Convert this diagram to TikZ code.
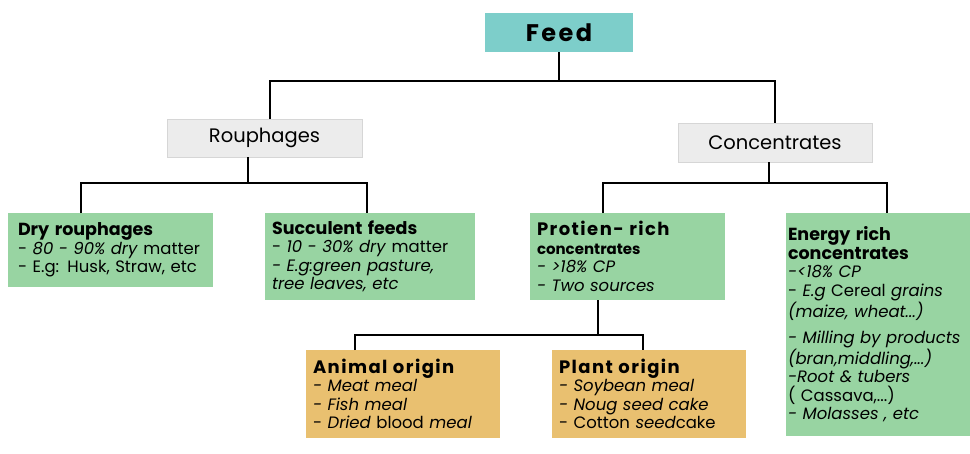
\documentclass[tikz,border=0pt]{standalone}
\usepackage{fontspec}
\setmainfont{Poppins}
\definecolor{teal1}{RGB}{125,206,202}
\definecolor{green1}{RGB}{152,212,162}
\definecolor{orange1}{RGB}{233,192,112}
\definecolor{gray1}{RGB}{236,236,236}
\definecolor{gray2}{RGB}{214,214,214}
\newcommand{\bodyfont}{\fontsize{16.5}{18.5}\selectfont}
\newcommand{\ttl}[1]{{\fontsize{17.5}{19}\selectfont\bfseries #1}}
\newcommand{\spttl}[1]{{\fontsize{18}{20}\selectfont\bfseries\addfontfeature{LetterSpace=8}#1}}
\begin{document}
\begin{tikzpicture}[x=1pt,y=-1pt,
  conn/.style={line width=2pt, black},
  boxbase/.style={anchor=north west, inner xsep=13pt, inner ysep=3pt, outer sep=0pt, align=left, font=\bodyfont},
  gbox/.style={boxbase, fill=green1},
  obox/.style={boxbase, fill=orange1},
  hbox/.style={anchor=north west, fill=gray1, draw=gray2, line width=0.8pt, inner sep=0pt, outer sep=0pt, align=center, font=\fontsize{19.5}{22}\selectfont},
  feedbox/.style={anchor=north west, fill=teal1, inner sep=0pt, outer sep=0pt, align=center, font=\fontsize{24}{28}\selectfont\bfseries\addfontfeature{LetterSpace=10}}
]
\useasboundingbox (0,0) rectangle (970,453);
\fill[white] (0,0) rectangle (970,453);

\node[feedbox, minimum width=148pt, minimum height=39pt] (feed) at (485,13) {Feed};
\node[hbox, minimum width=195pt, minimum height=38pt] (rouph) at (167,119) {Rouphages};
\node[hbox, minimum width=194pt, minimum height=39pt] (conc) at (678,123) {Concentrates};

\node[gbox, minimum width=205pt, minimum height=74pt, text width=185pt, inner xsep=10pt] (dry) at (8,213)
 {\ttl{Dry rouphages}\\- \textit{80 - 90\% dry} matter\\- E.g: Husk, Straw, etc};
\node[gbox, minimum width=210pt, minimum height=87pt, text width=196pt, inner xsep=7pt] (succ) at (265,213)
 {\ttl{Succulent feeds}\\- \textit{10 - 30\% dry} matter\\\textit{- E.g:green pasture,}\\\textit{tree leaves, etc}};
\node[gbox, minimum width=195pt, minimum height=87pt, text width=181pt, inner xsep=7pt] (prot) at (530,213)
 {\spttl{Protien- rich}\\{\fontsize{15}{16}\selectfont\bfseries concentrates}\\\textit{- >18\% CP}\\\textit{- Two sources}};
\node[gbox, minimum width=184pt, minimum height=223pt, text width=180pt, inner xsep=2pt] (energy) at (786,213)
 {\ttl{Energy rich}\\\ttl{concentrates}\\\textit{-<18\% CP}\\- \textit{E.g} Cereal \textit{grains}\\\textit{(maize, wheat...)}\\[8pt]\textit{- Milling by products}\\\textit{(bran,middling,...)}\\\textit{-Root \& tubers}\\( Cassava,...)\\\textit{- Molasses , etc}};
\node[obox, minimum width=194pt, minimum height=88pt, text width=180pt, inner xsep=7pt] (animal) at (306,350)
 {\spttl{Animal origin}\\\textit{- Meat meal}\\\textit{- Fish meal}\\- \textit{Dried} blood \textit{meal}};
\node[obox, minimum width=194pt, minimum height=88pt, text width=180pt, inner xsep=7pt] (plant) at (552,350)
 {\spttl{Plant origin}\\\textit{- Soybean meal}\\\textit{- Noug seed cake}\\- Cotton \textit{seed}cake};

\coordinate (bar1) at (0,81);
\coordinate (bar2) at (0,183);
\coordinate (bar3) at (0,335);

\draw[conn] (feed.south) -- (feed.south |- bar1);
\draw[conn] ([xshift=5pt]rouph.north) |- (conc.north |- bar1) -- (conc.north);
\draw[conn] ([xshift=-17pt]rouph.south) -- ([xshift=-17pt]rouph.south |- bar2);
\draw[conn] ([xshift=-30pt]dry.north) |- ([xshift=-3pt]succ.north |- bar2) -- ([xshift=-3pt]succ.north);
\draw[conn] ([xshift=-6pt]conc.south) -- ([xshift=-6pt]conc.south |- bar2);
\draw[conn] ([xshift=-25pt]prot.north) |- ([xshift=9pt]energy.north |- bar2) -- ([xshift=9pt]energy.north);
\draw[conn] ([xshift=-30pt]prot.south) -- ([xshift=-30pt]prot.south |- bar3);
\draw[conn] ([xshift=-48pt]animal.north) |- ([xshift=-6pt]plant.north |- bar3) -- ([xshift=-6pt]plant.north);
\end{tikzpicture}
\end{document}
